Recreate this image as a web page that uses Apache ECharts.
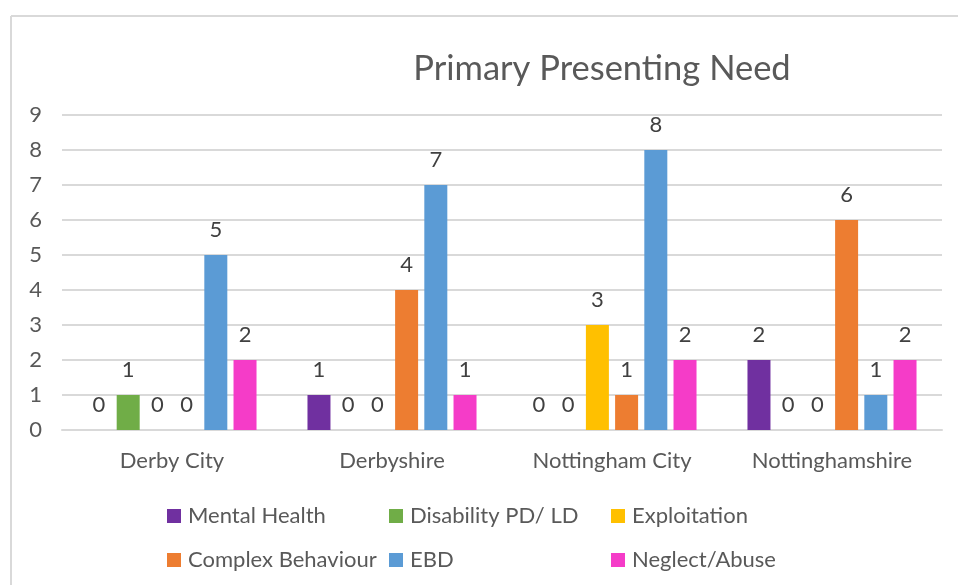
<!DOCTYPE html>
<html>
<head>
<meta charset="utf-8">
<script src="https://cdn.jsdelivr.net/npm/echarts@6/dist/echarts.min.js"></script>
<style>
  html, body { margin: 0; padding: 0; background: #fff; }
  #chart { width: 958px; height: 585px; }
</style>
</head>
<body>
<div id="chart"></div>
<script>
// Areas along the category axis
const regions = ['Derby City', 'Derbyshire', 'Nottingham City', 'Nottinghamshire'];

// Counts per need, one value per area
const mentalHealth     = [0, 1, 0, 2];
const disability       = [1, 0, 0, 0];
const exploitation     = [0, 0, 3, 0];
const complexBehaviour = [0, 4, 1, 6];
const ebd              = [5, 7, 8, 1];
const neglectAbuse     = [2, 1, 2, 2];

const yTicks = [0, 1, 2, 3, 4, 5, 6, 7, 8, 9];

const FONT = 'Lato';
const TEXT = '#595959';

const seriesDefs = [
  { name: 'Mental Health',       data: mentalHealth,     color: '#7030A0' },
  { name: 'Disability PD/ LD',   data: disability,       color: '#70AD47' },
  { name: 'Exploitation',        data: exploitation,     color: '#FFC000' },
  { name: 'Complex Behaviour',   data: complexBehaviour, color: '#ED7D31' },
  { name: 'EBD',                 data: ebd,              color: '#5B9BD5' },
  { name: 'Neglect/Abuse',       data: neglectAbuse,     color: '#F53CC8' }
];

// Legend laid out as a 3-column grid: one legend block per entry
const legendCols = [167, 389, 611];
const legendRows = [500, 544];
const legends = seriesDefs.map((s, i) => ({
  data: [s.name],
  left: legendCols[i % 3] - 5,
  top: legendRows[Math.floor(i / 3)],
  itemWidth: 14, itemHeight: 14, itemGap: 0,
  icon: 'rect',
  textStyle: { color: TEXT, fontFamily: FONT, fontSize: 22, padding: [0, 0, 0, 2] }
}));

const chart = echarts.init(document.getElementById('chart'), null, { renderer: 'canvas' });

chart.setOption({
  backgroundColor: '#fff',
  animation: false,
  title: {
    text: 'Primary Presenting Need',
    left: 597, top: 46, textAlign: 'center',
    textStyle: { color: TEXT, fontFamily: FONT, fontSize: 34.5, fontWeight: 'normal' }
  },
  graphic: [
    { type: 'line', shape: { x1: 11, y1: 16, x2: 958, y2: 16 }, style: { stroke: '#d9d9d9', lineWidth: 2 } },
    { type: 'line', shape: { x1: 11, y1: 16, x2: 11, y2: 585 }, style: { stroke: '#d9d9d9', lineWidth: 2 } }
  ],
  legend: legends,
  grid: { left: 62, right: 16, top: 115, bottom: 155, containLabel: false },
  xAxis: {
    type: 'category',
    data: regions,
    axisLine: { show: true, lineStyle: { color: '#d9d9d9', width: 2 } },
    axisTick: { show: false },
    axisLabel: { color: TEXT, fontFamily: FONT, fontSize: 22, margin: 20 }
  },
  yAxis: {
    type: 'value',
    min: yTicks[0], max: yTicks[yTicks.length - 1], interval: 1,
    axisLine: { show: false },
    axisTick: { show: false },
    axisLabel: { color: TEXT, fontFamily: FONT, fontSize: 22, margin: 20 },
    splitLine: { lineStyle: { color: '#d9d9d9', width: 2 } }
  },
  series: seriesDefs.map(s => ({
    name: s.name,
    type: 'bar',
    data: s.data,
    barWidth: 23,
    barGap: '27%',
    itemStyle: { color: s.color },
    label: {
      show: true, position: 'top', distance: 14,
      color: '#404040', fontFamily: FONT, fontSize: 22
    }
  }))
});
</script>
</body>
</html>
